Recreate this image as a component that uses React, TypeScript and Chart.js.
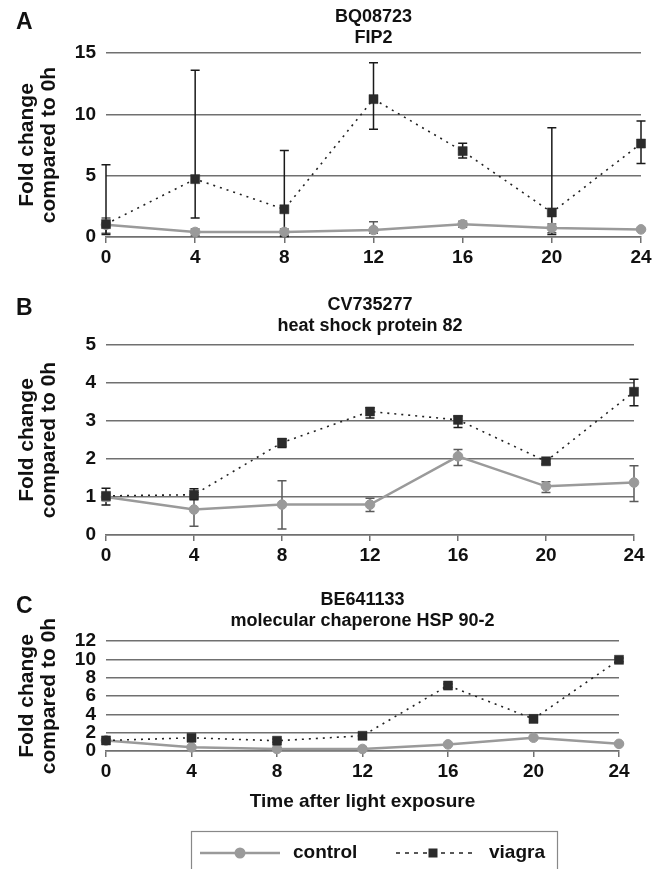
import React, { useEffect, useRef } from "react";
import { Chart, registerables } from "chart.js";

Chart.register(...registerables);

// ---------- data ----------
const hours = [0, 4, 8, 12, 16, 20, 24];
const seriesNames = ["control", "viagra"];
const yTitleLines = ["Fold change", "compared to 0h"];
const xTitle = "Time after light exposure";

const aTitle = ["BQ08723", "FIP2"];
const aYTicks = [0, 5, 10, 15];
const aControl = [1.0, 0.41, 0.41, 0.57, 1.04, 0.74, 0.62];
const aControlLow = [0.3, 0.1, 0.1, 0.3, 0.8, 0.35, 0.55];
const aControlHigh = [1.55, 0.65, 0.65, 1.25, 1.28, 1.05, 0.7];
const aViagra = [1.05, 4.72, 2.26, 11.24, 7.0, 2.0, 7.62];
const aViagraLow = [0.2, 1.55, 0.05, 8.78, 6.44, 0.2, 6.0];
const aViagraHigh = [5.9, 13.6, 7.06, 14.2, 7.64, 8.9, 9.46];

const bTitle = ["CV735277", "heat shock protein 82"];
const bYTicks = [0, 1, 2, 3, 4, 5];
const bControl = [1.0, 0.67, 0.8, 0.8, 2.07, 1.28, 1.38];
const bControlLow = [0.9, 0.23, 0.16, 0.62, 1.83, 1.12, 0.88];
const bControlHigh = [1.1, 1.06, 1.43, 0.97, 2.25, 1.4, 1.82];
const bViagra = [1.03, 1.06, 2.43, 3.25, 3.03, 1.94, 3.77];
const bViagraLow = [0.79, 0.93, 2.3, 3.08, 2.83, 1.87, 3.4];
const bViagraHigh = [1.23, 1.22, 2.53, 3.35, 3.13, 2.0, 4.1];

const cTitle = ["BE641133", "molecular chaperone HSP 90-2"];
const cYTicks = [0, 2, 4, 6, 8, 10, 12];
const cControl = [1.15, 0.4, 0.22, 0.22, 0.72, 1.45, 0.78];
const cControlLow = [1.05, 0.3, 0.12, 0.12, 0.62, 1.35, 0.68];
const cControlHigh = [1.25, 0.5, 0.32, 0.32, 0.82, 1.55, 0.88];
const cViagra = [1.15, 1.44, 1.12, 1.66, 7.14, 3.5, 9.95];
const cViagraLow = [1.0, 1.25, 0.95, 1.45, 6.95, 3.3, 9.75];
const cViagraHigh = [1.3, 1.6, 1.3, 1.85, 7.3, 3.7, 10.15];

// ---------- styles ----------
const FONT = "'Liberation Sans', Arial, Helvetica, sans-serif";
const GRID = "#707070";
const CONTROL_COLOR = "#9a9a9a";
const VIAGRA_COLOR = "#2b2b2b";

const errorBarPlugin = {
  id: "errorBars",
  beforeDatasetsDraw(chart: any) {
    const ctx = chart.ctx;
    const xs = chart.scales.x;
    const ys = chart.scales.y;
    chart.data.datasets.forEach((ds: any) => {
      if (!ds.errLow) return;
      ctx.save();
      ctx.strokeStyle = ds.errColor;
      ctx.lineWidth = 1.5;
      ds.data.forEach((pt: any, j: number) => {
        const px = xs.getPixelForValue(pt.x);
        const y1 = ys.getPixelForValue(Math.max(ds.errLow[j], ys.min));
        const y2 = ys.getPixelForValue(ds.errHigh[j]);
        ctx.beginPath();
        ctx.moveTo(px, y1);
        ctx.lineTo(px, y2);
        ctx.moveTo(px - 4.5, y1);
        ctx.lineTo(px + 4.5, y1);
        ctx.moveTo(px - 4.5, y2);
        ctx.lineTo(px + 4.5, y2);
        ctx.stroke();
      });
      ctx.restore();
    });
  },
};

const decorPlugin = {
  id: "decor",
  afterDraw(chart: any, _args: any, opts: any) {
    const ctx = chart.ctx;
    const area = chart.chartArea;
    ctx.save();
    ctx.fillStyle = "#111";
    // panel letter
    ctx.font = `bold 23px ${FONT}`;
    ctx.textAlign = "left";
    ctx.textBaseline = "middle";
    ctx.fillText(opts.letter, 16, opts.letterY);
    // y title
    ctx.font = `bold 21px ${FONT}`;
    ctx.textAlign = "center";
    const cy = (area.top + area.bottom) / 2 + (opts.yTitleShift || 0);
    yTitleLines.forEach((line, i) => {
      ctx.save();
      ctx.translate(27 + i * 22, cy);
      ctx.rotate(-Math.PI / 2);
      ctx.fillText(line, 0, 0);
      ctx.restore();
    });
    // legend
    if (opts.legend) {
      const ly = opts.legendY;
      ctx.strokeStyle = "#888";
      ctx.lineWidth = 1.2;
      ctx.strokeRect(191.5, ly - 21.5, 366, 70);
      const ds = chart.data.datasets;
      // control
      ctx.strokeStyle = ds[0].borderColor;
      ctx.lineWidth = 2.5;
      ctx.setLineDash([]);
      ctx.beginPath();
      ctx.moveTo(200, ly);
      ctx.lineTo(280, ly);
      ctx.stroke();
      ctx.fillStyle = ds[0].pointBackgroundColor;
      ctx.beginPath();
      ctx.arc(240, ly, 5.5, 0, Math.PI * 2);
      ctx.fill();
      // viagra
      ctx.strokeStyle = ds[1].borderColor;
      ctx.lineWidth = 1.5;
      ctx.setLineDash([4, 5]);
      ctx.beginPath();
      ctx.moveTo(396, ly);
      ctx.lineTo(476, ly);
      ctx.stroke();
      ctx.setLineDash([]);
      ctx.fillStyle = ds[1].pointBackgroundColor;
      ctx.fillRect(428.5, ly - 4.5, 9, 9);
      ctx.fillStyle = "#111";
      ctx.font = `bold 19px ${FONT}`;
      ctx.textAlign = "left";
      ctx.textBaseline = "middle";
      ctx.fillText(ds[0].label, 293, ly);
      ctx.fillText(ds[1].label, 489, ly);
    }
    ctx.restore();
  },
};

type PanelSpec = {
  height: number;
  title: string[];
  titlePadTop: number;
  titlePadBottom: number;
  yTicks: number[];
  rightPad: number;
  xHeight: number;
  control: number[];
  controlLow: number[];
  controlHigh: number[];
  viagra: number[];
  viagraLow: number[];
  viagraHigh: number[];
  letter: string;
  letterY: number;
  showXTitle?: boolean;
  legend?: boolean;
  legendY?: number;
};

function buildConfig(p: PanelSpec): any {
  const toPts = (arr: number[]) => hours.map((h, i) => ({ x: h, y: arr[i] }));
  return {
    type: "line",
    data: {
      datasets: [
        {
          label: seriesNames[0],
          data: toPts(p.control),
          errLow: p.controlLow,
          errHigh: p.controlHigh,
          errColor: "#5a5a5a",
          borderColor: CONTROL_COLOR,
          borderWidth: 2.5,
          pointStyle: "circle",
          pointRadius: 4.8,
          pointBackgroundColor: CONTROL_COLOR,
          pointBorderColor: CONTROL_COLOR,
          pointBorderWidth: 1,
          order: 1,
          clip: false,
        },
        {
          label: seriesNames[1],
          data: toPts(p.viagra),
          errLow: p.viagraLow,
          errHigh: p.viagraHigh,
          errColor: "#1a1a1a",
          borderColor: "#222",
          borderWidth: 1.6,
          borderDash: [2, 5],
          pointStyle: "rect",
          pointRadius: 6.4,
          pointBackgroundColor: VIAGRA_COLOR,
          pointBorderColor: VIAGRA_COLOR,
          pointBorderWidth: 0.5,
          order: 0,
          clip: false,
        },
      ],
    },
    options: {
      responsive: false,
      animation: false,
      events: [],
      layout: { padding: { left: 0, right: p.rightPad, top: 0, bottom: 0 } },
      plugins: {
        legend: { display: false },
        tooltip: { enabled: false },
        title: {
          display: true,
          text: p.title,
          fullSize: false,
          color: "#111",
          font: { family: FONT, size: 18, weight: "bold", lineHeight: 21 / 18 },
          padding: { top: p.titlePadTop, bottom: p.titlePadBottom },
        },
        decor: {
          letter: p.letter,
          letterY: p.letterY,
          legend: !!p.legend,
          legendY: p.legendY,
        },
      },
      scales: {
        x: {
          type: "linear",
          min: hours[0],
          max: hours[hours.length - 1],
          afterBuildTicks: (scale: any) => {
            scale.ticks = hours.map((v) => ({ value: v }));
          },
          afterFit: (scale: any) => {
            scale.height = p.xHeight;
          },
          grid: {
            drawOnChartArea: false,
            drawTicks: true,
            tickLength: 6,
            color: GRID,
            lineWidth: 1.5,
          },
          border: { display: true, color: GRID, width: 1.5 },
          ticks: {
            autoSkip: false,
            maxRotation: 0,
            padding: 3,
            color: "#111",
            font: { family: FONT, size: 19, weight: "bold" },
          },
          title: {
            display: !!p.showXTitle,
            text: xTitle,
            color: "#111",
            font: { family: FONT, size: 19, weight: "bold" },
            padding: { top: 0, bottom: 56 },
          },
        },
        y: {
          type: "linear",
          min: p.yTicks[0],
          max: p.yTicks[p.yTicks.length - 1],
          afterBuildTicks: (scale: any) => {
            scale.ticks = p.yTicks.map((v) => ({ value: v }));
          },
          afterFit: (scale: any) => {
            scale.width = 106;
          },
          grid: {
            drawOnChartArea: true,
            drawTicks: false,
            color: GRID,
            lineWidth: 1.5,
          },
          border: { display: false },
          ticks: {
            autoSkip: false,
            padding: 10,
            color: "#111",
            font: { family: FONT, size: 19, weight: "bold" },
          },
        },
      },
    },
    plugins: [errorBarPlugin, decorPlugin],
  };
}

const panels: PanelSpec[] = [
  {
    height: 280,
    title: aTitle,
    titlePadTop: 7,
    titlePadBottom: 4,
    yTicks: aYTicks,
    rightPad: 25,
    xHeight: 43,
    control: aControl,
    controlLow: aControlLow,
    controlHigh: aControlHigh,
    viagra: aViagra,
    viagraLow: aViagraLow,
    viagraHigh: aViagraHigh,
    letter: "A",
    letterY: 23,
  },
  {
    height: 285,
    title: bTitle,
    titlePadTop: 14.5,
    titlePadBottom: 8.5,
    yTicks: bYTicks,
    rightPad: 32,
    xHeight: 30,
    control: bControl,
    controlLow: bControlLow,
    controlHigh: bControlHigh,
    viagra: bViagra,
    viagraLow: bViagraLow,
    viagraHigh: bViagraHigh,
    letter: "B",
    letterY: 29,
  },
  {
    height: 304,
    title: cTitle,
    titlePadTop: 24.5,
    titlePadBottom: 9.5,
    yTicks: cYTicks,
    rightPad: 47,
    xHeight: 118,
    control: cControl,
    controlLow: cControlLow,
    controlHigh: cControlHigh,
    viagra: cViagra,
    viagraLow: cViagraLow,
    viagraHigh: cViagraHigh,
    letter: "C",
    letterY: 42,
    showXTitle: true,
    legend: true,
    legendY: 288,
  },
];

const tops = [0, 280, 565];

function Panel({ spec, top }: { spec: PanelSpec; top: number }) {
  const ref = useRef<HTMLCanvasElement | null>(null);
  useEffect(() => {
    if (!ref.current) return;
    const chart = new Chart(ref.current, buildConfig(spec));
    return () => chart.destroy();
  }, [spec]);
  return (
    <canvas
      ref={ref}
      width={666}
      height={spec.height}
      style={{ position: "absolute", left: 0, top, width: 666, height: spec.height, display: "block" }}
    />
  );
}

export default function App() {
  return (
    <div style={{ position: "absolute", left: 0, top: 0, width: 666, height: 869, background: "#fff", overflow: "hidden" }}>
      {panels.map((p, i) => (
        <Panel key={i} spec={p} top={tops[i]} />
      ))}
    </div>
  );
}
